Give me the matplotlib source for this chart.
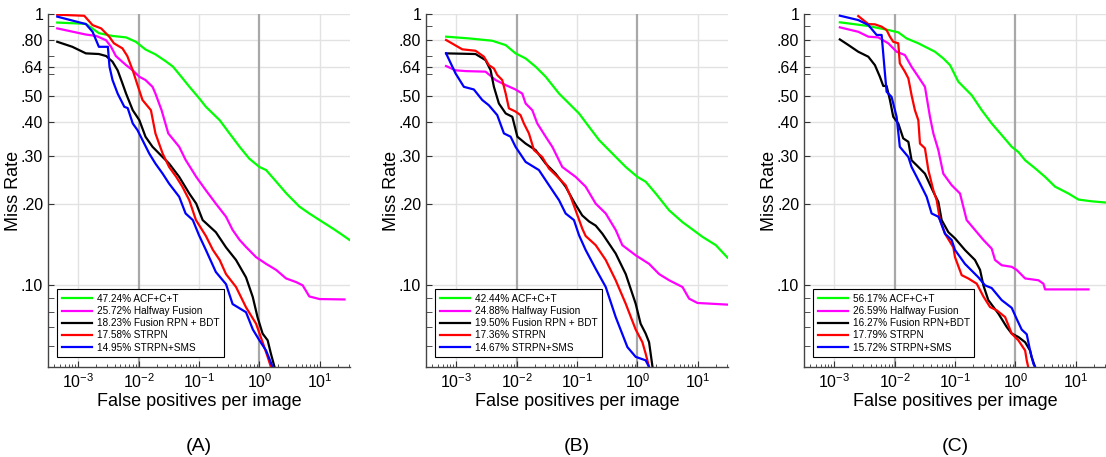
import matplotlib
matplotlib.use("Agg")
import matplotlib.pyplot as plt
from matplotlib.ticker import FixedLocator, NullFormatter, LogLocator

plt.rcParams["font.family"] = ["Liberation Sans", "DejaVu Sans"]
plt.rcParams["mathtext.default"] = "regular"

# panel (A) ---------------------------------------------------------------------------
acf_a_fppi = [4.5e-4, 1.34e-3, 2.2e-3, 3.7e-3, 6.2e-3, 9e-3, 0.013, 0.019, 0.028, 0.037, 0.05,
              0.069, 0.10, 0.13, 0.22, 0.32, 0.47, 0.68, 1.0, 1.29, 1.9, 2.8, 4.6, 6.7, 9.9, 16.4, 24, 31]
acf_a_mr = [0.93, 0.92, 0.85, 0.83, 0.82, 0.79, 0.74, 0.71, 0.67, 0.64, 0.59, 0.54, 0.49, 0.455,
            0.406, 0.363, 0.324, 0.293, 0.273, 0.266, 0.241, 0.218, 0.195, 0.184, 0.174, 0.162, 0.153, 0.147]
half_a_fppi = [4.5e-4, 1.34e-3, 2e-3, 2.9e-3, 3.5e-3, 4.2e-3, 6.2e-3, 8e-3, 0.0103, 0.013, 0.017, 0.019,
               0.024, 0.031, 0.047, 0.06, 0.09, 0.13, 0.19, 0.28, 0.36, 0.47, 0.60, 0.88, 1.29, 1.89,
               2.77, 4.05, 5.2, 6.7, 9.9, 25.6]
half_a_mr = [0.885, 0.84, 0.83, 0.80, 0.757, 0.70, 0.648, 0.62, 0.587, 0.571, 0.539, 0.509, 0.442,
             0.363, 0.324, 0.29, 0.251, 0.224, 0.2, 0.179, 0.16, 0.147, 0.1385, 0.127, 0.120, 0.114,
             0.106, 0.1028, 0.1, 0.091, 0.089, 0.0887]
rpn_a_fppi = [4.5e-4, 8e-4, 1.34e-3, 2.2e-3, 2.9e-3, 3.7e-3, 4.5e-3, 5.4e-3, 6.2e-3, 8e-3, 0.0103,
              0.013, 0.017, 0.025, 0.032, 0.047, 0.069, 0.09, 0.115, 0.19, 0.28, 0.41, 0.60, 0.776,
              0.93, 1.13, 1.37, 1.55, 1.78]
rpn_a_mr = [0.79, 0.757, 0.716, 0.712, 0.70, 0.667, 0.62, 0.555, 0.509, 0.442, 0.406, 0.353, 0.324,
            0.297, 0.281, 0.251, 0.218, 0.2, 0.174, 0.157, 0.138, 0.124, 0.107, 0.0906, 0.0764,
            0.0664, 0.0627, 0.056, 0.05]
strpn_a_fppi = [4.5e-4, 1.26e-3, 1.73e-3, 2.4e-3, 3.26e-3, 3.9e-3, 5.4e-3, 6.5e-3, 8e-3, 9.6e-3,
                0.0116, 0.016, 0.019, 0.025, 0.032, 0.042, 0.053, 0.069, 0.089, 0.13, 0.17, 0.22,
                0.28, 0.41, 0.60, 0.88, 1.13, 1.37, 1.55]
strpn_a_mr = [0.994, 0.985, 0.91, 0.885, 0.825, 0.78, 0.747, 0.70, 0.62, 0.547, 0.482, 0.442, 0.363,
              0.306, 0.273, 0.251, 0.231, 0.206, 0.174, 0.152, 0.135, 0.124, 0.110, 0.0986, 0.083,
              0.0722, 0.0617, 0.0545, 0.05]
sms_a_fppi = [4.5e-4, 1.34e-3, 1.73e-3, 2.2e-3, 3.1e-3, 3.3e-3, 3.7e-3, 4.5e-3, 5.8e-3, 6.6e-3, 8e-3,
              9.6e-3, 0.0116, 0.015, 0.019, 0.025, 0.032, 0.047, 0.06, 0.079, 0.1, 0.13, 0.19, 0.28,
              0.36, 0.60, 0.78, 1.0, 1.29, 1.66]
sms_a_mr = [0.978, 0.918, 0.86, 0.757, 0.757, 0.639, 0.571, 0.509, 0.455, 0.45, 0.395, 0.373, 0.343,
            0.306, 0.281, 0.258, 0.237, 0.212, 0.184, 0.174, 0.153, 0.135, 0.112, 0.101, 0.0853,
            0.0796, 0.0687, 0.0627, 0.0575, 0.05]
labels_a = ["47.24% ACF+C+T", "25.72% Halfway Fusion", "18.23% Fusion RPN + BDT",
            "17.58% STRPN", "14.95% STRPN+SMS"]

# panel (B) ---------------------------------------------------------------------------
acf_b_fppi = [6.8e-4, 1.62e-3, 3.95e-3, 6.6e-3, 9.6e-3, 0.0141, 0.0207, 0.0303, 0.0504, 0.0737,
              0.108, 0.158, 0.232, 0.385, 0.641, 1.0, 1.37, 2.01, 3.35, 5.57, 7.2, 11.9, 19.9, 31]
acf_b_mr = [0.825, 0.813, 0.797, 0.768, 0.716, 0.686, 0.639, 0.587, 0.509, 0.468, 0.43, 0.384, 0.343,
            0.306, 0.273, 0.251, 0.241, 0.218, 0.189, 0.171, 0.164, 0.151, 0.1406, 0.1265]
half_b_fppi = [6.8e-4, 9.75e-4, 1.43e-3, 3.06e-3, 4.49e-3, 6.6e-3, 9.6e-3, 0.0124, 0.0141, 0.0182,
               0.022, 0.0303, 0.039, 0.0571, 0.095, 0.139, 0.204, 0.299, 0.437, 0.563, 0.937, 1.56,
               2.29, 3.35, 5.57, 7.18, 9.87, 31]
half_b_mr = [0.643, 0.62, 0.616, 0.613, 0.571, 0.547, 0.527, 0.509, 0.468, 0.442, 0.395, 0.353,
             0.324, 0.273, 0.251, 0.231, 0.2, 0.184, 0.16, 0.1406, 0.129, 0.120, 0.110, 0.1044,
             0.0986, 0.0893, 0.0861, 0.0849]
rpn_b_fppi = [6.8e-4, 2.09e-3, 3.06e-3, 3.71e-3, 4.21e-3, 5.09e-3, 6.6e-3, 8.5e-3, 0.0103, 0.0141,
              0.0207, 0.0303, 0.0443, 0.0648, 0.089, 0.122, 0.158, 0.204, 0.263, 0.437, 0.641, 0.937,
              1.13, 1.37, 1.56, 1.78]
rpn_b_mr = [0.716, 0.712, 0.676, 0.621, 0.539, 0.468, 0.43, 0.418, 0.353, 0.333, 0.315, 0.281, 0.258,
            0.231, 0.203, 0.181, 0.172, 0.166, 0.155, 0.131, 0.110, 0.0855, 0.0722, 0.0664, 0.0617, 0.05]
strpn_b_fppi = [6.8e-4, 1.26e-3, 2.09e-3, 2.88e-3, 3.47e-3, 4.21e-3, 4.78e-3, 5.78e-3, 6.6e-3, 7.46e-3,
                9.6e-3, 0.0116, 0.0132, 0.016, 0.0194, 0.0266, 0.0343, 0.0443, 0.0648, 0.0785, 0.095,
                0.122, 0.139, 0.204, 0.299, 0.437, 0.641, 0.937, 1.21, 1.37, 1.56]
strpn_b_mr = [0.802, 0.741, 0.732, 0.696, 0.648, 0.63, 0.596, 0.571, 0.509, 0.449, 0.437, 0.424, 0.395,
              0.363, 0.315, 0.297, 0.2695, 0.255, 0.234, 0.212, 0.189, 0.162, 0.152, 0.1406, 0.124,
              0.1044, 0.0855, 0.0687, 0.0617, 0.056, 0.05]
sms_b_fppi = [6.8e-4, 9.75e-4, 1.34e-3, 1.96e-3, 2.7e-3, 3.47e-3, 4.78e-3, 6.17e-3, 7.96e-3, 9.6e-3,
              0.0141, 0.0234, 0.0343, 0.0504, 0.0648, 0.089, 0.108, 0.139, 0.204, 0.299, 0.437, 0.683,
              0.937, 1.37, 1.56]
sms_b_mr = [0.716, 0.604, 0.539, 0.527, 0.482, 0.461, 0.424, 0.363, 0.353, 0.324, 0.285, 0.266, 0.234,
            0.206, 0.184, 0.174, 0.153, 0.135, 0.115, 0.0986, 0.0764, 0.0592, 0.0545, 0.0529, 0.05]
labels_b = ["42.44% ACF+C+T", "24.88% Halfway Fusion", "19.50% Fusion RPN + BDT",
            "17.36% STRPN", "14.67% STRPN+SMS"]

# panel (C) ---------------------------------------------------------------------------
acf_c_fppi = [1.24e-3, 3.67e-3, 7.85e-3, 0.0115, 0.0158, 0.0247, 0.0466, 0.064, 0.0827, 0.1135,
              0.189, 0.277, 0.405, 0.593, 0.869, 1.12, 1.45, 2.12, 3.1, 4.54, 7.55, 11.1, 18.4, 30.6]
acf_c_mr = [0.932, 0.903, 0.873, 0.856, 0.813, 0.78, 0.726, 0.686, 0.648, 0.563, 0.502, 0.442, 0.395,
            0.358, 0.324, 0.31, 0.289, 0.27, 0.251, 0.231, 0.218, 0.207, 0.204, 0.202]
half_c_fppi = [1.24e-3, 2.5e-3, 3.67e-3, 5.36e-3, 7.85e-3, 0.0108, 0.0148, 0.0191, 0.0247, 0.0318,
               0.0385, 0.0438, 0.053, 0.064, 0.088, 0.121, 0.156, 0.214, 0.295, 0.405, 0.46, 0.593,
               0.869, 1.05, 1.45, 2.4, 2.91, 3.1, 16.2]
half_c_mr = [0.893, 0.86, 0.825, 0.82, 0.78, 0.726, 0.706, 0.639, 0.587, 0.539, 0.418, 0.363, 0.315,
             0.258, 0.234, 0.218, 0.174, 0.16, 0.147, 0.1365, 0.124, 0.1186, 0.117, 0.114, 0.106,
             0.1044, 0.1014, 0.0966, 0.0966]
rpn_c_fppi = [1.24e-3, 1.71e-3, 2.5e-3, 3.67e-3, 4.72e-3, 5.71e-3, 6.49e-3, 7.37e-3, 8.37e-3, 9.5e-3,
              0.0115, 0.0139, 0.0169, 0.0191, 0.0232, 0.0318, 0.0438, 0.053, 0.0601, 0.0776, 0.1,
              0.146, 0.214, 0.26, 0.295, 0.356, 0.522, 0.718, 0.869, 1.12, 1.45, 1.75, 1.85, 2.12]
rpn_c_mr = [0.806, 0.769, 0.726, 0.696, 0.648, 0.587, 0.543, 0.543, 0.482, 0.418, 0.395, 0.348, 0.338,
            0.289, 0.277, 0.258, 0.221, 0.203, 0.174, 0.157, 0.149, 0.135, 0.124, 0.114, 0.1, 0.0882,
            0.0787, 0.0702, 0.0664, 0.0645, 0.0617, 0.0575, 0.0545, 0.05]
strpn_c_fppi = [2.5e-3, 3.03e-3, 3.67e-3, 4.72e-3, 6.1e-3, 7.37e-3, 8.37e-3, 9.5e-3, 0.0115, 0.0122,
                0.0148, 0.0169, 0.0191, 0.0217, 0.0247, 0.0263, 0.0318, 0.0362, 0.0438, 0.0497, 0.0564,
                0.0683, 0.0938, 0.1, 0.129, 0.166, 0.229, 0.295, 0.38, 0.49, 0.675, 0.869, 1.12, 1.45,
                1.54, 1.63]
strpn_c_mr = [0.983, 0.95, 0.918, 0.916, 0.898, 0.873, 0.825, 0.79, 0.78, 0.658, 0.613, 0.579, 0.502,
              0.442, 0.406, 0.333, 0.32, 0.266, 0.224, 0.206, 0.174, 0.155, 0.138, 0.127, 0.109, 0.106,
              0.1014, 0.091, 0.0832, 0.0809, 0.0764, 0.0664, 0.0627, 0.0575, 0.0529, 0.05]
sms_c_fppi = [1.24e-3, 2.5e-3, 3.67e-3, 5.04e-3, 6.1e-3, 6.92e-3, 7.37e-3, 8.9e-3, 9.5e-3, 0.0108,
              0.0122, 0.0169, 0.0191, 0.0232, 0.028, 0.0339, 0.041, 0.053, 0.0564, 0.0683, 0.088, 0.1,
              0.146, 0.244, 0.314, 0.405, 0.593, 0.869, 1.05, 1.27, 1.54, 1.75, 1.99, 2.12]
sms_c_mr = [0.986, 0.95, 0.911, 0.837, 0.837, 0.604, 0.517, 0.495, 0.468, 0.418, 0.324, 0.297, 0.273,
            0.251, 0.231, 0.212, 0.184, 0.179, 0.174, 0.155, 0.147, 0.135, 0.12, 0.107, 0.1, 0.0977,
            0.0882, 0.0826, 0.0752, 0.0687, 0.066, 0.0575, 0.0513, 0.05]
labels_c = ["56.17% ACF+C+T", "26.59% Halfway Fusion", "16.27% Fusion RPN+BDT",
            "17.79% STRPN", "15.72% STRPN+SMS"]

colors = ["#00ff00", "#ff00ff", "#000000", "#ff0000", "#0000ff"]
ytick_vals = [0.10, 0.20, 0.30, 0.40, 0.50, 0.64, 0.80, 1.0]
ytick_labels = [".10", ".20", ".30", ".40", ".50", ".64", ".80", "1"]


def draw_panel(ax, curves, labels, tag):
    ax.set_xscale("log")
    ax.set_yscale("log")
    ax.set_xlim(10**-3.5, 10**1.5)
    ax.set_ylim(0.05, 1.0)

    # grid
    for v in ytick_vals:
        ax.axhline(v, color="#e2e2e2", lw=1.0, zorder=0)
    for d in [1e-3, 1e-1, 1e1]:
        ax.axvline(d, color="#e2e2e2", lw=1.0, zorder=0)
    for d in [1e-2, 1e0]:
        ax.axvline(d, color="#a8a8a8", lw=1.6, zorder=0)

    for (fx, fy), c, lab in zip(curves, colors, labels):
        ax.plot(fx, fy, color=c, lw=1.6, label=lab)

    ax.yaxis.set_major_locator(FixedLocator(ytick_vals))
    ax.set_yticklabels(ytick_labels)
    ax.yaxis.set_minor_locator(LogLocator(base=10, subs=range(2, 10)))
    ax.yaxis.set_minor_formatter(NullFormatter())
    ax.xaxis.set_major_locator(LogLocator(base=10, numticks=10))
    ax.xaxis.set_minor_locator(LogLocator(base=10, subs=range(2, 10), numticks=20))
    ax.xaxis.set_minor_formatter(NullFormatter())
    ax.tick_params(which="both", direction="in", color="#333333", labelsize=11.5)
    ax.tick_params(which="major", length=4, width=0.8)
    ax.tick_params(which="minor", length=2.5, width=0.6)
    ax.tick_params(axis="y", which="minor", length=4)

    for s in ["top", "right"]:
        ax.spines[s].set_visible(False)
    for s in ["left", "bottom"]:
        ax.spines[s].set_color("#444444")
        ax.spines[s].set_linewidth(1.0)

    ax.set_xlabel("False positives per image", fontsize=13, labelpad=2)
    ax.set_ylabel("Miss Rate", fontsize=13)
    ax.yaxis.set_label_coords(-0.085, 0.5)

    leg = ax.legend(loc="lower left", bbox_to_anchor=(0.03, 0.028), fontsize=7.2,
                    handlelength=3.0, handletextpad=0.5, labelspacing=0.22,
                    borderpad=0.45, fancybox=False, framealpha=1.0, borderaxespad=0)
    leg.get_frame().set_edgecolor("black")
    leg.get_frame().set_linewidth(0.8)

    pos = ax.get_position()
    fig.text(pos.x0 + pos.width / 2, 0.024, tag, ha="center", va="center", fontsize=14)


fig = plt.figure(figsize=(11.06, 4.57), dpi=100)
ax_a = fig.add_axes([48 / 1106, 90 / 457, 302 / 1106, 353 / 457])
ax_b = fig.add_axes([426 / 1106, 90 / 457, 302 / 1106, 353 / 457])
ax_c = fig.add_axes([804 / 1106, 90 / 457, 302 / 1106, 353 / 457])

draw_panel(ax_a, [(acf_a_fppi, acf_a_mr), (half_a_fppi, half_a_mr), (rpn_a_fppi, rpn_a_mr),
                  (strpn_a_fppi, strpn_a_mr), (sms_a_fppi, sms_a_mr)], labels_a, "(A)")
draw_panel(ax_b, [(acf_b_fppi, acf_b_mr), (half_b_fppi, half_b_mr), (rpn_b_fppi, rpn_b_mr),
                  (strpn_b_fppi, strpn_b_mr), (sms_b_fppi, sms_b_mr)], labels_b, "(B)")
draw_panel(ax_c, [(acf_c_fppi, acf_c_mr), (half_c_fppi, half_c_mr), (rpn_c_fppi, rpn_c_mr),
                  (strpn_c_fppi, strpn_c_mr), (sms_c_fppi, sms_c_mr)], labels_c, "(C)")

fig.savefig("out.png", dpi=100)
